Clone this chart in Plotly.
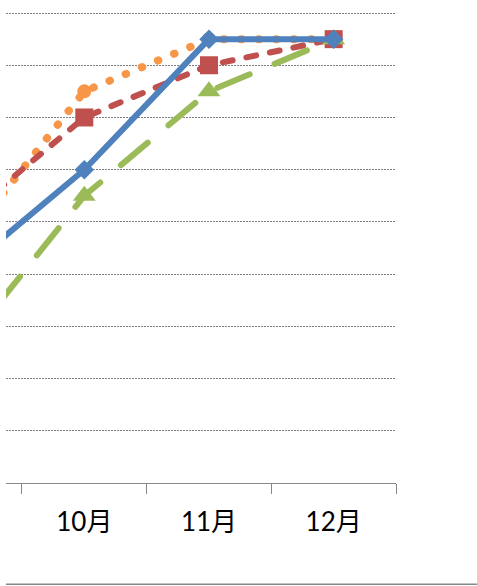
import plotly.graph_objects as go

# Monthly series (only the last months fall inside the visible window)
months = ["9月", "10月", "11月", "12月"]
blue_vals = [40, 60, 85, 85]
red_vals = [50, 70, 80, 85]
green_vals = [25, 55, 75, 85]
orange_vals = [45, 75, 85, 85]

BLUE = "#4F81BD"
RED = "#C0504D"
GREEN = "#9BBB59"
ORANGE = "#F79646"

fig = go.Figure()

# drawing order: orange, red, green, blue (blue ends on top)
fig.add_trace(go.Scatter(
    x=months, y=orange_vals, mode="lines+markers",
    line=dict(color=ORANGE, width=8, dash="0.5px,17px"),
    marker=dict(symbol="circle", size=14, color=ORANGE, line=dict(width=0)),
))
fig.add_trace(go.Scatter(
    x=months, y=red_vals, mode="lines+markers",
    line=dict(color=RED, width=6, dash="10px,14px"),
    marker=dict(symbol="square", size=18, color=RED, line=dict(width=0)),
))
fig.add_trace(go.Scatter(
    x=months, y=green_vals, mode="lines+markers",
    line=dict(color=GREEN, width=6, dash="35px,27px"),
    marker=dict(symbol="triangle-up", size=20, color=GREEN, line=dict(width=0)),
))
fig.add_trace(go.Scatter(
    x=months, y=blue_vals, mode="lines+markers",
    line=dict(color=BLUE, width=6),
    marker=dict(symbol="diamond", size=15, color=BLUE, line=dict(width=0)),
))

fig.update_layout(
    width=477, height=586,
    autosize=False,
    margin=dict(l=6, r=81, t=12, b=103, pad=0),
    paper_bgcolor="white", plot_bgcolor="white",
    showlegend=False,
    font=dict(family="Lato, 'Noto Sans CJK JP', sans-serif", size=26, color="#000000"),
)

fig.update_xaxes(
    type="category",
    categoryorder="array", categoryarray=months,
    range=[0.372, 3.5],
    tickson="boundaries",
    ticks="outside", ticklen=10, tickwidth=1.3, tickcolor="#888888",
    showline=True, linecolor="#888888", linewidth=1.3,
    showgrid=False, zeroline=False,
    tickfont=dict(size=26, color="#000000"),
    ticklabelstandoff=16,
    fixedrange=True,
)
fig.update_yaxes(
    range=[0, 90.2], dtick=10, tick0=0,
    showticklabels=False, ticks="",
    showgrid=True, gridcolor="#7f7f7f", gridwidth=1.3, griddash="2px,1px",
    zeroline=False, showline=False,
    fixedrange=True,
)

# thin rule along the bottom of the chart
fig.add_shape(type="line", xref="paper", yref="paper",
              x0=0, x1=1.21, y0=-0.2149, y1=-0.2149,
              line=dict(color="#888888", width=1.5))

# rounded caps so the dashes and dots look soft
post = """
var gd = document.getElementById('{plot_id}');
function roundCaps() {
  gd.querySelectorAll('.scatterlayer .js-line').forEach(function (p) {
    p.style.strokeLinecap = 'round';
    p.style.strokeLinejoin = 'round';
  });
}
roundCaps();
gd.on('plotly_afterplot', roundCaps);
"""

fig.write_html("out.html", post_script=post, config={"displayModeBar": False})
